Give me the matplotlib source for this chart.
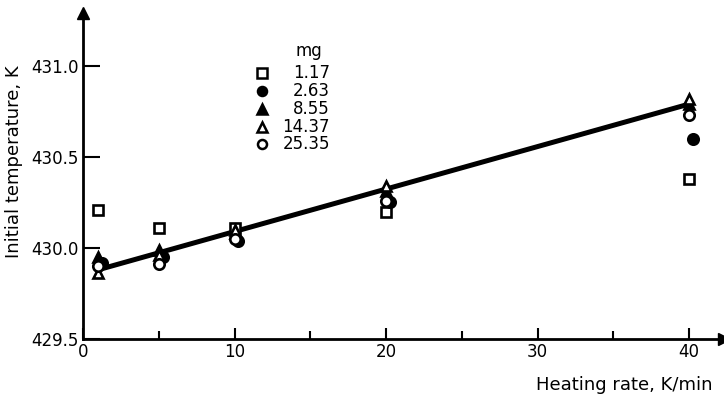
import matplotlib
matplotlib.use("Agg")
import matplotlib.pyplot as plt

# heating rates, K/min
rates = [1, 5, 10, 20, 40]

# initial temperature (K) per sample mass
t_117 = [430.21, 430.11, 430.11, 430.20, 430.38]
t_263 = [429.92, 429.95, 430.04, 430.25, 430.60]
t_855 = [429.95, 429.99, 430.08, 430.31, 430.79]
t_1437 = [429.86, 429.96, 430.10, 430.34, 430.82]
t_2535 = [429.90, 429.91, 430.05, 430.26, 430.73]

masses = ["1.17", "2.63", "8.55", "14.37", "25.35"]

# fitted line end points
fit_x = [1, 40]
fit_y = [429.88, 430.79]

plt.rcParams['font.family'] = ['DejaVu Sans']

fig = plt.figure(figsize=(7.24, 3.98), dpi=100)
ax = fig.add_axes([83/724, 59/398, (724-83)/724, (339-13)/398])

ax.plot(fit_x, fit_y, color='black', lw=3.6, zorder=2)

styles = [
    dict(marker='s', mfc='white', dx=0.0),
    dict(marker='o', mfc='black', dx=0.25),
    dict(marker='^', mfc='black', dx=0.0),
    dict(marker='^', mfc='white', dx=0.0),
    dict(marker='o', mfc='white', dx=0.0),
]
series = [t_117, t_263, t_855, t_1437, t_2535]
for vals, st in zip(series, styles):
    ax.plot([r + st['dx'] for r in rates], vals, ls='none', marker=st['marker'],
            mfc=st['mfc'], mec='black', mew=1.9, ms=7.5, zorder=3)

ax.set_xlim(0, 42.3)
ax.set_ylim(429.5, 431.29)

for s in ['top', 'right']:
    ax.spines[s].set_visible(False)
for s in ['left', 'bottom']:
    ax.spines[s].set_linewidth(2)

ax.set_xticks([0, 10, 20, 30, 40])
ax.set_xticks([5, 15, 25, 35], minor=True)
ax.set_yticks([429.5, 430.0, 430.5, 431.0])
ax.set_yticklabels(["429.5", "430.0", "430.5", "431.0"])
ax.tick_params(axis='x', which='major', direction='in', length=8, width=1.5, labelsize=12, pad=3)
ax.tick_params(axis='x', which='minor', direction='in', length=6, width=1.5)
ax.tick_params(axis='y', direction='in', length=12, width=1.5, labelsize=12, pad=3)

# arrow heads on the axes
ax.plot(1, 0, marker='>', color='black', ms=9, transform=ax.transAxes, clip_on=False)
ax.plot(0, 1, marker='^', color='black', ms=9, transform=ax.transAxes, clip_on=False)

fig.text(14/724, 1 - 162/398, "Initial temperature, K", rotation=90, ha='center', va='center', fontsize=13)
fig.text(712/724, 1 - 385/398, "Heating rate, K/min", ha='right', va='center', fontsize=13)

# legend drawn by hand
fig.text(322/724, 1 - 51/398, "mg", ha='right', va='center', fontsize=12)
leg_y = [73, 91, 109, 127, 144]
for m, st, py in zip(masses, styles, leg_y):
    yy = 1 - py/398
    ax.plot(262/724, yy, marker=st['marker'], mfc=st['mfc'], mec='black', mew=1.8, ms=6.5,
            transform=fig.transFigure, clip_on=False)
    fig.text(330/724, yy, m, ha='right', va='center', fontsize=12)

fig.savefig("out.png", dpi=100)
